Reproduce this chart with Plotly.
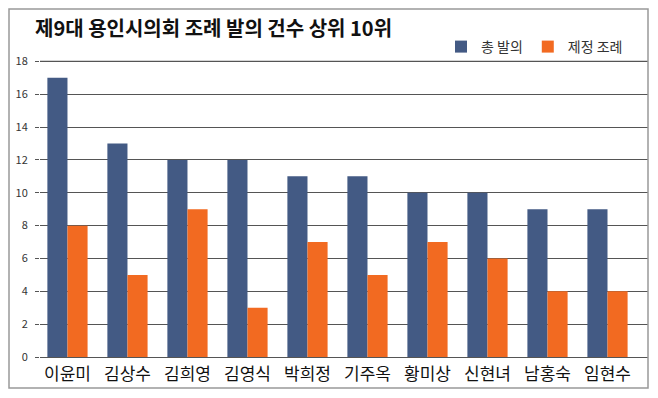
import plotly.graph_objects as go

names = ["이윤미", "김상수", "김희영", "김영식", "박희정", "기주옥", "황미상", "신현녀", "남홍숙", "임현수"]
total = [17, 13, 12, 12, 11, 11, 10, 10, 9, 9]
enacted = [8, 5, 9, 3, 7, 5, 7, 6, 4, 4]
yticks = [0, 2, 4, 6, 8, 10, 12, 14, 16, 18]

FONT = "Noto Sans CJK KR"
W, H = 650, 390
L, R, T, B = 32, 10, 37, 41
pw, ph = W - L - R, H - T - B

def px(x):
    return (x - L) / pw

def py(y):
    return (H - B - y) / ph

fig = go.Figure()
fig.add_trace(go.Bar(x=names, y=total, name="총 발의", marker_color="#435A84",
                     marker_line_width=0))
fig.add_trace(go.Bar(x=names, y=enacted, name="제정 조례", marker_color="#F26A21",
                     marker_line_width=0))

shapes = [dict(type="line", xref="paper", yref="y", x0=0, x1=1,
               y0=yticks[-1], y1=yticks[-1], line=dict(color="#555", width=1.3),
               layer="above")]
shapes.append(dict(type="rect", xref="paper", yref="paper",
                   x0=px(1), x1=px(640), y0=py(380), y1=py(1),
                   line=dict(color="#999", width=1.5), layer="above"))

fig.update_layout(
    width=W, height=H,
    margin=dict(l=L, r=R, t=T, b=B, autoexpand=False),
    paper_bgcolor="white", plot_bgcolor="white",
    barmode="group", bargap=0.33, bargroupgap=0,
    font=dict(family=FONT, color="#222"),
    showlegend=True,
    legend=dict(orientation="h", x=px(433), y=py(39), xanchor="left", yanchor="middle",
                font=dict(size=14, color="#333", family=FONT), itemwidth=30,
                bgcolor="rgba(0,0,0,0)", traceorder="normal"),
    xaxis=dict(type="category", range=[-0.458, 9.675], showgrid=False, showline=False,
               automargin=False, ticks="", ticklabelstandoff=5,
               tickfont=dict(size=17, color="#111", family=FONT)),
    yaxis=dict(range=[0, 19], tickvals=yticks, ticktext=[str(v) for v in yticks],
               automargin=False,
               showgrid=True, gridcolor="#555", gridwidth=1,
               zeroline=True, zerolinecolor="#555", zerolinewidth=1,
               ticks="outside", ticklen=4, tickcolor="#555", ticklabelstandoff=5,
               tickfont=dict(size=11, color="#333", family=FONT)),
    annotations=[dict(text="<b>제9대 용인시의회 조례 발의 건수 상위 10위</b>",
                      xref="paper", yref="paper", x=px(25), y=py(20),
                      xanchor="left", yanchor="middle", showarrow=False,
                      font=dict(size=20, color="#111", family=FONT))],
    shapes=shapes,
)

fig.write_html("out.html")
